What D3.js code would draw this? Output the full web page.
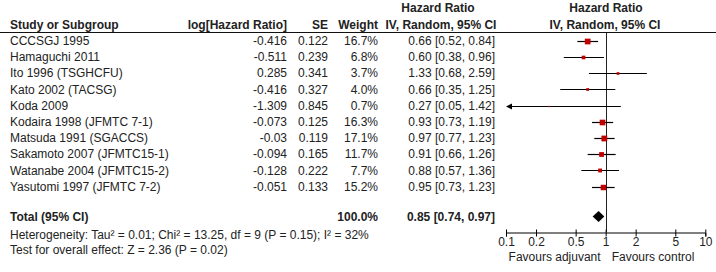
<!DOCTYPE html>
<html><head><meta charset="utf-8">
<script src="https://cdn.jsdelivr.net/npm/d3@7"></script>
<style>
body{margin:0;background:#fff;}
text{font-family:"Liberation Sans",Arial,sans-serif;font-size:12px;fill:#222;}
.b{font-weight:bold;}
</style></head><body>
<svg id="c" width="716" height="272"></svg>
<script>
const studies = ["CCCSGJ 1995","Hamaguchi 2011","Ito 1996 (TSGHCFU)","Kato 2002 (TACSG)","Koda 2009","Kodaira 1998 (JFMTC 7-1)","Matsuda 1991 (SGACCS)","Sakamoto 2007 (JFMTC15-1)","Watanabe 2004 (JFMTC15-2)","Yasutomi 1997 (JFMTC 7-2)"];
const logHR = ["-0.416","-0.511","0.285","-0.416","-1.309","-0.073","-0.03","-0.094","-0.128","-0.051"];
const se = ["0.122","0.239","0.341","0.327","0.845","0.125","0.119","0.165","0.222","0.133"];
const weight = [16.7,6.8,3.7,4.0,0.7,16.3,17.1,11.7,7.7,15.2];
const hr = [0.66,0.60,1.33,0.66,0.27,0.93,0.97,0.91,0.88,0.95];
const lo = [0.52,0.38,0.68,0.35,0.05,0.73,0.77,0.66,0.57,0.73];
const hi = [0.84,0.96,2.59,1.25,1.42,1.19,1.23,1.26,1.36,1.23];
const total = {weight:"100.0%", hr:0.85, lo:0.74, hi:0.97};
const tickVals = [0.1,0.2,0.5,1,2,5,10];
const tickLabels = ["0.1","0.2","0.5","1","2","5","10"];
const heterogeneity = "Heterogeneity: Tau\u00B2 = 0.01; Chi\u00B2 = 13.25, df = 9 (P = 0.15); I\u00B2 = 32%";
const overall = "Test for overall effect: Z = 2.36 (P = 0.02)";

const svg = d3.select("#c");
const x = d3.scaleLog().domain([0.1,10]).range([506,705.3]);
const y = d3.scaleLinear().domain([0,9]).range([40.7,186.7]);
const fmt = d3.format(".2f");
const red = "#c00000";

// header
const hdr = svg.append("g");
hdr.append("text").attr("class","b").attr("x",10).attr("y",25).attr("dy","0.35em").text("Study or Subgroup");
hdr.append("text").attr("class","b").attr("x",287).attr("y",25).attr("dy","0.35em").attr("text-anchor","end").text("log[Hazard Ratio]");
hdr.append("text").attr("class","b").attr("x",328).attr("y",25).attr("dy","0.35em").attr("text-anchor","end").text("SE");
hdr.append("text").attr("class","b").attr("x",378).attr("y",25).attr("dy","0.35em").attr("text-anchor","end").text("Weight");
hdr.append("text").attr("class","b").attr("x",438).attr("y",8).attr("dy","0.35em").attr("text-anchor","middle").text("Hazard Ratio");
hdr.append("text").attr("class","b").attr("x",441).attr("y",25).attr("dy","0.35em").attr("text-anchor","middle").text("IV, Random, 95% CI");
hdr.append("text").attr("class","b").attr("x",606).attr("y",8).attr("dy","0.35em").attr("text-anchor","middle").text("Hazard Ratio");
hdr.append("text").attr("class","b").attr("x",605).attr("y",25).attr("dy","0.35em").attr("text-anchor","middle").text("IV, Random, 95% CI");
svg.append("line").attr("x1",0).attr("x2",716).attr("y1",32.5).attr("y2",32.5).attr("stroke","#111").attr("stroke-width",1);

// vertical line at 1
svg.append("line").attr("x1",Math.round(x(1))+0.5).attr("x2",Math.round(x(1))+0.5).attr("y1",33).attr("y2",232).attr("stroke","#222");

// rows
const rows = svg.append("g").selectAll("g").data(studies).join("g");
rows.append("text").attr("x",10).attr("y",(d,i)=>y(i)).attr("dy","0.35em").text(d=>d);
rows.append("text").attr("x",287).attr("y",(d,i)=>y(i)).attr("dy","0.35em").attr("text-anchor","end").text((d,i)=>logHR[i]);
rows.append("text").attr("x",328).attr("y",(d,i)=>y(i)).attr("dy","0.35em").attr("text-anchor","end").text((d,i)=>se[i]);
rows.append("text").attr("x",378).attr("y",(d,i)=>y(i)).attr("dy","0.35em").attr("text-anchor","end").text((d,i)=>weight[i].toFixed(1)+"%");
rows.append("text").attr("x",495).attr("y",(d,i)=>y(i)).attr("dy","0.35em").attr("text-anchor","end").text((d,i)=>`${fmt(hr[i])} [${fmt(lo[i])}, ${fmt(hi[i])}]`);

// CI lines
rows.append("line")
  .attr("x1",(d,i)=>x(Math.max(lo[i],0.1)+ (lo[i]<0.1?0.003:0)))
  .attr("x2",(d,i)=>x(Math.min(hi[i],10)))
  .attr("y1",(d,i)=>Math.round(y(i))+0.5).attr("y2",(d,i)=>Math.round(y(i))+0.5)
  .attr("stroke","#000").attr("stroke-width",1.2);
// arrows for truncated CIs
rows.filter((d,i)=>lo[i]<0.1).append("path")
  .attr("d",(d,i)=>{const cx=x(0.1), cy=Math.round(y(studies.indexOf(d)))+0.5; return `M${cx},${cy}L${cx+6},${cy-3}L${cx+6},${cy+3}Z`;})
  .attr("fill","#000");
// squares
rows.append("rect")
  .attr("x",(d,i)=>x(hr[i])-Math.max(1.3,1.4*Math.sqrt(weight[i]))/2)
  .attr("y",(d,i)=>Math.round(y(i))+0.5-Math.max(1.3,1.4*Math.sqrt(weight[i]))/2)
  .attr("width",(d,i)=>Math.max(1.3,1.4*Math.sqrt(weight[i])))
  .attr("height",(d,i)=>Math.max(1.3,1.4*Math.sqrt(weight[i])))
  .attr("fill",red);

// total
const ty = 217;
svg.append("text").attr("class","b").attr("x",10).attr("y",ty).attr("dy","0.35em").text("Total (95% CI)");
svg.append("text").attr("class","b").attr("x",378).attr("y",ty).attr("dy","0.35em").attr("text-anchor","end").text(total.weight);
svg.append("text").attr("class","b").attr("x",495).attr("y",ty).attr("dy","0.35em").attr("text-anchor","end").text(`${fmt(total.hr)} [${fmt(total.lo)}, ${fmt(total.hi)}]`);
svg.append("path")
  .attr("d",`M${x(total.lo)},${ty-0.5}L${x(total.hr)},${ty-6}L${x(total.hi)},${ty-0.5}L${x(total.hr)},${ty+5}Z`)
  .attr("fill","#000");
svg.append("text").attr("x",10).attr("y",235).attr("dy","0.35em").text(heterogeneity);
svg.append("text").attr("x",10).attr("y",250).attr("dy","0.35em").text(overall);

// axis
const axis = d3.axisBottom(x).tickValues(tickVals).tickFormat((d,i)=>tickLabels[i]).tickSizeOuter(0).tickSize(4).tickPadding(1);
const ag = svg.append("g").attr("transform","translate(0,232.5)").call(axis);
ag.select(".domain").attr("stroke","#000");
ag.selectAll(".tick line").attr("y1",-3).attr("y2",4).attr("stroke","#000");
ag.selectAll(".tick text").style("font-size","12px").style("font-family","'Liberation Sans',Arial,sans-serif").attr("fill","#222");
svg.append("text").attr("x",x(1)-5).attr("y",257).attr("dy","0.35em").attr("text-anchor","end").text("Favours adjuvant");
svg.append("text").attr("x",x(1)+6).attr("y",257).attr("dy","0.35em").text("Favours control");
</script></body></html>
